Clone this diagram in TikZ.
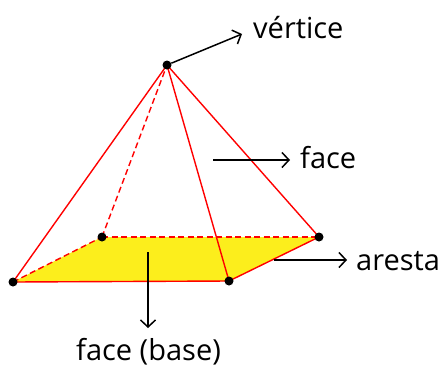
\documentclass[tikz,border=0pt]{standalone}
\usepackage{fontspec}
\setmainfont{Open Sans}
\usetikzlibrary{arrows.meta}
\definecolor{baseyellow}{HTML}{FCEE1C}
\tikzset{
  vtx/.style={circle,fill=black,inner sep=0pt,minimum size=9pt},
  edge/.style={red,line width=1.4pt},
  hidden/.style={red,line width=1.4pt,dash pattern=on 6pt off 3.5pt},
  pointer/.style={black,line width=1.5pt,-{Straight Barb[length=7pt,width=15pt,line width=1.5pt]}},
  lbl/.style={font=\fontsize{29}{34}\selectfont,text=black,inner sep=0pt,anchor=base west}
}
\begin{document}
\begin{tikzpicture}[x=1pt,y=-1pt]
\useasboundingbox (0,0) rectangle (443,367);
\coordinate (A) at (13,282);
\coordinate (B) at (102,237);
\coordinate (C) at (319,237);
\coordinate (D) at (229,281);
\coordinate (V) at (167,65);
\fill[baseyellow] (A)--(B)--(C)--(D)--cycle;
\draw[hidden] (A)--(B);
\draw[hidden] (B)--(C);
\draw[hidden] (B)--(V);
\draw[edge] (A)--(D);
\draw[edge] (D)--(C);
\draw[edge] (A)--(V);
\draw[edge] (D)--(V);
\draw[edge] (C)--(V);
\node[vtx] (nA) at (A) {};
\node[vtx] (nB) at (B) {};
\node[vtx] (nC) at (C) {};
\node[vtx] (nD) at (D) {};
\node[vtx] (nV) at (V) {};
\node[lbl] (t1) at (253,38) {vértice};
\node[lbl] (t2) at (300,168) {face};
\node[lbl] (t3) at (356,270) {aresta};
\node[lbl] (t4) at (76,360) {face (base)};
\coordinate (s2) at (213,160);
\coordinate (e2) at (290,160);
\coordinate (s3) at (274,260);
\coordinate (e3) at (347,260);
\coordinate (s4) at (148,252);
\coordinate (e4) at (148,328);
\coordinate (e1) at (242,34);
\draw[pointer] (nV) -- (e1);
\draw[pointer] (s2) -- (e2);
\draw[pointer] (s3) -- (e3);
\draw[pointer] (s4) -- (e4);
\end{tikzpicture}
\end{document}
